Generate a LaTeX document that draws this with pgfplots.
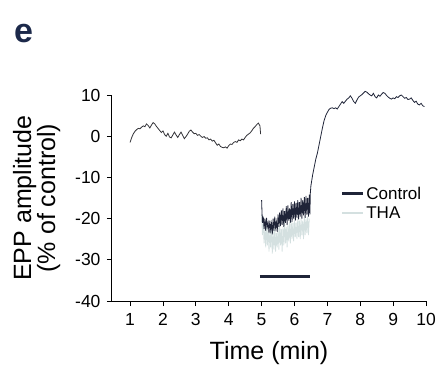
\documentclass[border=0pt]{standalone}
\usepackage{fontspec}
\setmainfont{Liberation Sans}
\usepackage{pgfplots}
\pgfplotsset{compat=1.18}
\definecolor{ctrl}{rgb}{0.12,0.14,0.22}
\definecolor{tha}{rgb}{0.83,0.88,0.88}
\definecolor{pre}{rgb}{0.2,0.2,0.22}
\definecolor{elab}{rgb}{0.11,0.16,0.29}
\begin{document}
\begin{tikzpicture}
\useasboundingbox (-112pt,-67pt) rectangle (331pt,301pt);
\node[anchor=base west, inner sep=0pt, font=\fontsize{34}{40}\selectfont\bfseries, text=elab] at (-98pt,259pt) {e};
\begin{axis}[
  scale only axis, width=314pt, height=206pt,
  at={(0pt,0pt)}, anchor=south west,
  xmin=0.45, xmax=10, ymin=-40, ymax=10,
  axis lines*=left,
  axis line style={line width=1pt, black},
  tick align=outside, tick style={black, line width=0.8pt}, major tick length=5pt,
  xtick={1,...,10}, ytick={-40,-30,...,10},
  /pgf/number format/assume math mode=true,
  tick label style={font=\fontsize{17.5}{20}\selectfont},
  xticklabel style={yshift=-4pt},
  yticklabel style={xshift=-3pt},
  xlabel={Time (min)},
  xlabel style={font=\fontsize{25}{30}\selectfont, yshift=-9pt},
  ylabel={EPP amplitude\\(\% of control)},
  ylabel style={font=\fontsize{25}{24}\selectfont, align=center, yshift=8pt},
  legend style={draw=none, fill=none, at={(0.725,0.57)}, anchor=north west,
    font=\fontsize{17}{20}\selectfont, row sep=2pt, inner sep=1pt,
    /tikz/every even column/.append style={column sep=5pt}},
  legend cell align=left,
  legend image code/.code={\draw[#1, line width=2.5pt] (0pt,0pt) -- (21pt,0pt);},
  clip=false,
]
\addlegendimage{ctrl}
\addlegendentry{Control}
\addlegendimage{tha}
\addlegendentry{THA}
% THA during drug
\addplot[tha, line width=0.8pt, forget plot] coordinates {
(5.000,-19) (5.025,-24) (5.050,-21) (5.075,-26) (5.100,-22) (5.125,-27) (5.150,-21.5) (5.175,-26.5) (5.200,-22.5) (5.225,-28) (5.250,-23) (5.275,-27) (5.300,-22) (5.325,-28.5) (5.350,-23) (5.375,-27.5) (5.400,-22) (5.425,-28) (5.450,-23.5) (5.475,-27) (5.500,-22) (5.525,-27.5) (5.550,-21.5) (5.575,-26.5) (5.600,-22.5) (5.625,-28) (5.650,-22) (5.675,-26.5) (5.700,-21) (5.725,-26) (5.750,-22) (5.775,-27) (5.800,-21.5) (5.825,-25.5) (5.850,-21) (5.875,-26) (5.900,-20.5) (5.925,-25) (5.950,-21) (5.975,-25.5) (6.000,-20.5) (6.025,-24.5) (6.050,-21) (6.075,-25) (6.100,-20) (6.125,-24.5) (6.150,-20.5) (6.175,-25) (6.200,-20) (6.225,-24) (6.250,-20.5) (6.275,-25) (6.300,-19.5) (6.325,-24) (6.350,-20) (6.375,-23.5) (6.400,-19.5) (6.425,-24) (6.450,-20)
};
% Control before
\addplot[pre, line width=0.8pt, forget plot] coordinates {
(1.00,-1.5) (1.05,-0.3) (1.10,0.6) (1.15,1.2) (1.20,1.6) (1.25,1.9) (1.30,1.8) (1.35,2.2) (1.40,2.5) (1.45,2.3) (1.50,3.0) (1.55,2.6) (1.60,2.0) (1.65,2.7) (1.70,3.3) (1.75,3.0) (1.80,2.4) (1.85,1.9) (1.90,1.4) (1.95,0.9) (2.00,1.3) (2.05,0.4) (2.10,0.0) (2.15,0.7) (2.20,-0.2) (2.25,-0.4) (2.30,0.3) (2.35,1.0) (2.40,0.3) (2.45,-0.3) (2.50,0.4) (2.55,1.0) (2.60,0.2) (2.65,-0.6) (2.70,-0.1) (2.75,0.5) (2.80,1.2) (2.85,1.5) (2.90,1.0) (2.95,0.6) (3.00,0.7) (3.05,0.2) (3.10,0.4) (3.15,0.0) (3.20,-0.3) (3.25,-0.1) (3.30,-0.5) (3.35,-0.4) (3.40,-0.9) (3.45,-0.7) (3.50,-1.2) (3.55,-1.0) (3.60,-1.6) (3.65,-2.2) (3.70,-1.9) (3.75,-2.5) (3.80,-2.7) (3.85,-2.8) (3.90,-2.6) (3.95,-2.9) (4.00,-2.3) (4.05,-1.9) (4.10,-2.0) (4.15,-1.5) (4.20,-1.3) (4.25,-1.5) (4.30,-0.9) (4.35,-1.1) (4.40,-0.7) (4.45,-0.9) (4.50,-0.3) (4.55,0.2) (4.60,0.5) (4.65,0.8) (4.70,1.3) (4.75,1.9) (4.80,2.3) (4.85,2.8) (4.90,3.2) (4.95,2.5) (4.97,0.5)
};
% Control during drug and recovery
\addplot[ctrl, line width=0.8pt, forget plot] coordinates {
(5.000,-15.5) (5.010,-18.0) (5.025,-21.0) (5.050,-19.5) (5.075,-22.5) (5.100,-20.0) (5.125,-23.0) (5.150,-19.8) (5.175,-22.0) (5.200,-21.0) (5.225,-23.5) (5.250,-20.5) (5.275,-22.8) (5.300,-21.2) (5.325,-23.8) (5.350,-20.0) (5.375,-23.0) (5.400,-19.5) (5.425,-22.2) (5.450,-20.8) (5.475,-23.2) (5.500,-19.0) (5.525,-22.0) (5.550,-18.5) (5.575,-21.8) (5.600,-18.0) (5.625,-21.5) (5.650,-17.5) (5.675,-22.0) (5.700,-18.2) (5.725,-21.0) (5.750,-17.0) (5.775,-21.5) (5.800,-16.8) (5.825,-20.5) (5.850,-17.5) (5.875,-21.0) (5.900,-16.0) (5.925,-20.8) (5.950,-16.5) (5.975,-20.0) (6.000,-15.8) (6.025,-20.5) (6.050,-16.2) (6.075,-19.8) (6.100,-15.5) (6.125,-20.2) (6.150,-16.0) (6.175,-19.5) (6.200,-15.0) (6.225,-20.0) (6.250,-15.5) (6.275,-19.2) (6.300,-14.8) (6.325,-19.8) (6.350,-14.5) (6.375,-19.0) (6.400,-15.0) (6.425,-19.5) (6.450,-14.2) (6.470,-19.0)
(6.48,-14) (6.50,-12) (6.55,-9.5) (6.60,-7.5) (6.65,-5.5) (6.70,-4) (6.75,-2) (6.80,0) (6.85,2) (6.90,3.8) (6.95,5.0) (7.00,5.8) (7.05,6.5) (7.10,6.8) (7.15,6.9) (7.20,6.7) (7.25,6.9) (7.30,6.6) (7.35,7.2) (7.40,7.8) (7.45,8.4) (7.50,8.0) (7.55,8.5) (7.60,9.0) (7.65,9.3) (7.70,9.8) (7.75,9.2) (7.80,8.4) (7.85,8.0) (7.90,8.8) (7.95,9.5) (8.00,9.8) (8.05,10.1) (8.10,10.5) (8.15,10.9) (8.20,10.7) (8.25,10.3) (8.30,10.0) (8.35,9.8) (8.40,10.4) (8.45,9.6) (8.50,9.3) (8.55,10.0) (8.60,9.7) (8.65,10.2) (8.70,10.6) (8.75,10.4) (8.80,9.9) (8.85,9.5) (8.90,9.2) (8.95,9.0) (9.00,9.3) (9.05,9.1) (9.10,9.6) (9.15,9.4) (9.20,9.8) (9.25,10.0) (9.30,9.6) (9.35,9.2) (9.40,9.4) (9.45,8.9) (9.50,9.0) (9.55,9.3) (9.60,8.7) (9.65,8.2) (9.70,8.5) (9.75,7.8) (9.80,7.6) (9.85,8.0) (9.90,7.4) (9.95,7.2)
};
% drug application bar
\addplot[ctrl, line width=2.5pt, forget plot] coordinates {(4.95,-34) (6.47,-34)};
\end{axis}
\end{tikzpicture}
\end{document}
